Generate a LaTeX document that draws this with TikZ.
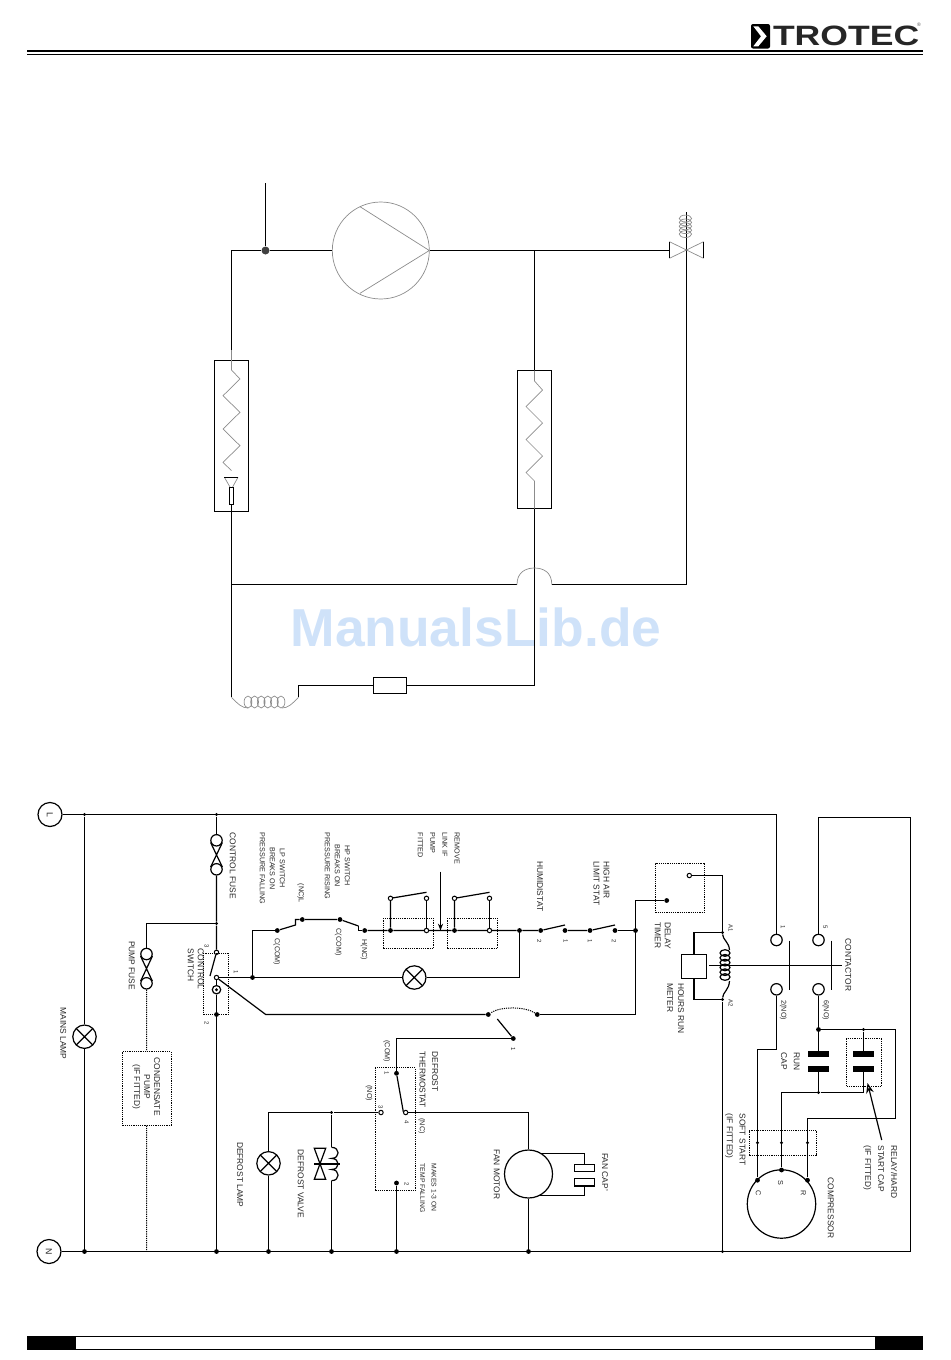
\documentclass[tikz,border=0pt]{standalone}
\usepackage{fontspec}
\setmainfont{Liberation Sans}
\usepackage{tikz}
\usetikzlibrary{arrows.meta}
\definecolor{wmblue}{HTML}{CFE2F9}
\definecolor{pipegray}{HTML}{8C8C8C}

\begin{document}
\begin{tikzpicture}[
    x=0.5pt, y=-0.5pt,
    >={Stealth[scale=0.6]},
    wire/.style={line width=0.6pt},
    pipe/.style={line width=0.35pt, draw=pipegray},
    dotwire/.style={line width=0.5pt, dash pattern=on 0.6pt off 0.5pt},
    dotbox/.style={draw, line width=0.5pt, dash pattern=on 0.6pt off 0.5pt, inner sep=0},
    plainbox/.style={draw, line width=0.6pt, inner sep=0},
    platebox/.style={fill=black, inner sep=0, minimum width=10.5pt, minimum height=3pt},
    jdot/.style={circle, fill=black, inner sep=0, minimum size=2.4pt},
    sdot/.style={circle, fill=black, inner sep=0, minimum size=1.6pt},
    odot/.style={circle, draw, fill=white, line width=0.5pt, inner sep=0, minimum size=2.2pt},
    termc/.style={circle, draw, line width=0.6pt, inner sep=0, minimum size=5.7pt},
    lamp/.style={circle, draw, line width=0.6pt, inner sep=0, minimum size=11.7pt,
        path picture={\draw[line width=0.6pt] (path picture bounding box.north west) -- (path picture bounding box.south east)
            (path picture bounding box.north east) -- (path picture bounding box.south west);}},
    lbl/.style={rotate=-90, anchor=west, inner sep=0, align=left, text=black!85, font=\fontsize{4.2}{5}\selectfont},
    sml/.style={rotate=-90, anchor=west, inner sep=0, align=left, text=black!85, font=\fontsize{3.6}{5}\selectfont},
    num/.style={rotate=-90, inner sep=0, text=black!85, font=\fontsize{3}{3.6}\selectfont}
]
\useasboundingbox (0,0) rectangle (950,1360);

% Page furniture
\node[text=wmblue, inner sep=0, font=\fontsize{26.7}{30}\bfseries\selectfont] (wmark) at (476,627) {ManualsLib.de};
\draw[line width=1pt] (27,51) -- (923,51);
\draw[line width=0.4pt] (27,54.5) -- (923,54.5);
\fill (27,1336) rectangle (75,1350);
\fill (875,1336) rectangle (923,1350);
\draw[line width=0.5pt] (75,1336.5) rectangle (875,1349.5);
\fill[rounded corners=1pt] (751,24) rectangle (770,48.5);
\fill[white] (753.3,26.3) -- (758.3,26.3) -- (766.7,36.3) -- (758.3,46.3) -- (753.3,46.3) -- (761,36.3) -- cycle;
\node[inner sep=0, anchor=west, xscale=1.27, transform shape, text=black!85, font=\fontsize{14}{16}\bfseries\selectfont] (brand) at (772.5,36.3) {TROTEC};
\node[inner sep=0, text=black!70, font=\fontsize{2.5}{3}\selectfont] (brandr) at (919,25) {®};

% Refrigerant circuit, nodes
\node[circle, pipe, draw, inner sep=0, minimum size=48.5pt] (pump) at (380.8,250.5) {};
\node[circle, fill=black!75, inner sep=0, minimum size=4pt] (suction) at (265.5,250.5) {};
\node[plainbox, minimum width=17pt, minimum height=75.5pt] (evap) at (231.5,435.8) {};
\node[plainbox, minimum width=16.8pt, minimum height=69pt] (cond) at (534.5,439.5) {};
\node[plainbox, minimum width=16.7pt, minimum height=8.25pt] (filter) at (390,685.5) {};
\node[draw, line width=0.4pt, inner sep=0, minimum width=2pt, minimum height=8.5pt] (orifice) at (231.5,495.8) {};
\coordinate (stubtop) at (265.5,183);
\coordinate (evapin) at (231.5,350);
\coordinate (tee) at (534.5,250.5);
\coordinate (valvel) at (669.5,250.5);
\coordinate (valvetop) at (686.5,211.7);
\coordinate (crossr) at (686.5,584.5);
\coordinate (junl) at (231.5,584.5);
\coordinate (arcl) at (517,584.5);
\coordinate (arcr) at (551.8,584.5);
\coordinate (capl) at (231.5,697.3);
\coordinate (capr) at (298.5,697.3);
\coordinate (capm) at (298.5,685.5);
\coordinate (capend) at (534.5,685.5);

% Refrigerant circuit, lines
\draw[wire] (stubtop) -- (suction);
\draw[wire] (evapin) |- (suction);
\draw[wire] (suction) -- (pump);
\draw[wire] (pump) -- (tee) -- (valvel);
\draw[wire] (tee) -- (cond.north);
\draw[wire] (orifice.south) -- (capl);
\draw[wire] (junl) -- (arcl);
\draw[wire] (arcr) -- (crossr) -- (valvetop);
\draw[wire] (cond.south) -- (capend) -- (filter);
\draw[wire] (filter) -- (capm) -- (capr);
\draw[pipe] (arcl) .. controls (517,572) and (526,568) .. (534.4,568) .. controls (543,568) and (551.8,572) .. (arcr);
\draw[pipe] (evapin) -- (231.5,370) -- (240,379) -- (223,395.7) -- (240,412.3) -- (223,429) -- (240,445.7) -- (223,462.3) -- (231.5,470.7);
\draw[pipe] (534.5,370.5) -- (534.5,381) -- (542.5,390) -- (526,406.5) -- (542.5,423) -- (526,439.5) -- (542.5,456) -- (526,472.5) -- (534.5,481) -- (534.5,508.5);
\draw[pipe] (224.4,477.3) -- (230,487) (238,477.3) -- (232.6,487);
\draw[line width=0.4pt] (224.4,477.3) -- (238,477.3);
\draw[pipe] (429.3,250.5) -- (360,206.7) (429.3,250.5) -- (360,293.3);
\draw[pipe] (669.5,241.7) -- (703.5,258.3) (669.5,258.3) -- (703.5,241.7);
\draw[line width=0.5pt] (669.5,241.7) -- (669.5,258.3) (703.5,241.7) -- (703.5,258.3);
\draw[pipe] (685.4,218.5) ellipse [x radius=6.2, y radius=3.4] (685.4,222.4) ellipse [x radius=6.2, y radius=3.4]
    (685.4,226.3) ellipse [x radius=6.2, y radius=3.4] (685.4,230.2) ellipse [x radius=6.2, y radius=3.4]
    (685.4,234.1) ellipse [x radius=6.2, y radius=3.4];
\draw[pipe] (capl) .. controls (238,704) and (242,708) .. (248,708);
\draw[pipe] (capr) .. controls (292,704) and (288,708) .. (282,708);
\draw[pipe] (248,702) ellipse [x radius=3.9, y radius=6] (254.6,702) ellipse [x radius=3.9, y radius=6]
    (261.2,702) ellipse [x radius=3.9, y radius=6] (267.8,702) ellipse [x radius=3.9, y radius=6]
    (274.4,702) ellipse [x radius=3.9, y radius=6] (281,702) ellipse [x radius=3.9, y radius=6];

% Mains nodes
\node[termc, minimum size=12pt, num, font=\fontsize{4.4}{5}\selectfont] (L) at (50,814.5) {L};
\node[termc, minimum size=12pt, num, font=\fontsize{4.4}{5}\selectfont] (N) at (49,1251.5) {N};
\coordinate (toprt) at (910.5,817.5);
\coordinate (botrt) at (910.5,1251.5);
\node[sdot] (mlamptop) at (84.5,814.5) {};
\node[sdot] (ctrltop) at (216.5,814.5) {};
\node[lamp] (mlamp) at (84.5,1036.7) {};
\node[jdot] (mlampbot) at (84.5,1251.5) {};
\node[jdot] (ctrlbot) at (216.5,1251.5) {};
\node[jdot] (dlampbot) at (268.5,1251.5) {};
\node[jdot] (valvebot) at (331.5,1251.5) {};
\node[jdot] (dstatbot) at (396.5,1251.5) {};
\node[jdot] (motorbot) at (528.5,1251.5) {};
\node[sdot] (a2bot) at (722.5,1251.5) {};
\coordinate (condbot) at (146.5,1251.5);

% Fuses and control switch
\node[termc] (ffa) at (216.5,840.3) {};
\node[termc] (ffb) at (216.5,869.3) {};
\node[termc] (pfa) at (146.5,954) {};
\node[termc] (pfb) at (146.5,983.3) {};
\node[sdot] (pumpj) at (216.5,923.5) {};
\node[odot] (cs3) at (216.5,952.3) {};
\node[odot] (cs1) at (216.5,977.5) {};
\node[circle, draw, line width=0.6pt, inner sep=0, minimum size=4.2pt] (csm) at (216.5,989.7) {};
\node[sdot] (csmd) at (216.5,989.7) {};
\node[jdot] (cs2) at (216.5,1014.5) {};
\coordinate (csblade) at (210,976);
\coordinate (ctrlbend) at (265.7,1014.5);
\node[dotbox, minimum width=12.5pt, minimum height=30.5pt] (csbox) at (215.8,983.8) {};
\node[dotbox, minimum width=24.4pt, minimum height=36.7pt] (cpbox) at (146.7,1088.4) {};

% Stat chain
\node[jdot] (pilotj) at (252.5,977.5) {};
\node[lamp] (pilot) at (414.3,977.5) {};
\node[jdot] (lpc) at (277.3,930.5) {};
\coordinate (lpb) at (295.5,925);
\coordinate (lpt) at (295.5,919.5);
\node[jdot] (lpn) at (302.3,919.5) {};
\node[jdot] (hpc) at (340,919.5) {};
\coordinate (hpb) at (358.5,926);
\node[jdot] (hpn) at (364.7,930.5) {};
\node[jdot] (ra) at (390.5,930.5) {};
\node[odot] (rat) at (390.5,898.3) {};
\node[odot] (rbt) at (426.5,898.3) {};
\node[odot] (rb) at (426.5,930.5) {};
\coordinate (rblade) at (426.5,892.3);
\node[jdot] (sa) at (454.5,930.5) {};
\node[odot] (sat) at (454.5,898.3) {};
\node[odot] (sbt) at (489.5,898.3) {};
\node[odot] (sb) at (489.5,930.5) {};
\coordinate (sblade) at (489.5,892.3);
\coordinate (linktop) at (440.5,871.7);
\coordinate (linkin) at (440.5,930.5);
\node[dotbox, minimum width=25pt, minimum height=15pt] (rbox) at (408.3,933.3) {};
\node[dotbox, minimum width=25pt, minimum height=15pt] (sbox) at (472.3,933.3) {};
\node[jdot] (pilotr) at (519.5,930.5) {};
\node[jdot] (ha) at (540.7,930.5) {};
\coordinate (hblade) at (565,925);
\node[jdot] (hb) at (565,930.5) {};
\node[jdot] (aa) at (590,930.5) {};
\coordinate (ablade) at (615,925);
\node[jdot] (ab) at (615,930.5) {};
\node[jdot] (tj) at (635.5,930.5) {};

% Defrost termination contact
\node[jdot] (tmr) at (537.3,1014.5) {};
\node[jdot] (tml) at (488.3,1014.5) {};
\coordinate (tmblade) at (497.3,1019);
\node[jdot] (tmc) at (513.3,1038.5) {};

% Defrost thermostat and loads
\node[jdot] (dt1) at (396.5,1073.3) {};
\coordinate (dtblade) at (403.3,1111.7);
\node[odot] (dt4) at (405.7,1112.5) {};
\node[odot] (dt3) at (381,1112.5) {};
\node[jdot] (dt2) at (396.5,1183) {};
\node[dotbox, minimum width=20pt, minimum height=61.3pt] (dtbox) at (395.3,1129) {};
\node[sdot] (valvej) at (331.5,1112.5) {};
\coordinate (coilt) at (331.5,1147.3);
\coordinate (coilb) at (331.5,1180.7);
\node[lamp] (dlamp) at (268.5,1163.3) {};
\node[circle, draw, line width=0.6pt, inner sep=0, minimum size=24pt] (motor) at (528.5,1174) {};
\coordinate (fcu) at (540.7,1153.5);
\coordinate (fcd) at (540,1195.5);
\node[plainbox, minimum width=10pt, minimum height=3.5pt] (fca) at (584.5,1167.8) {};
\node[plainbox, minimum width=10pt, minimum height=3.7pt] (fcb) at (584.5,1182.2) {};

% Timer, meter, contactor
\node[dotbox, minimum width=24.7pt, minimum height=24.3pt] (tmbox) at (680,887.7) {};
\node[jdot] (tma) at (666.7,900.5) {};
\node[odot] (tmb) at (689.3,875.5) {};
\node[sdot] (a1) at (722.5,932.5) {};
\node[sdot] (a2) at (722.5,999.5) {};
\node[plainbox, minimum width=12.5pt, minimum height=12pt] (meter) at (694,966.3) {};
\coordinate (sha) at (709.3,965.5);
\coordinate (shb) at (841.7,965.5);
\node[termc] (ca) at (776.5,940) {};
\node[termc] (cb) at (818.5,940) {};
\node[termc] (cc) at (776.5,989.3) {};
\node[termc] (cd) at (818.5,989.3) {};
\coordinate (baratop) at (789.5,940.7);
\coordinate (barabot) at (789.5,990);
\coordinate (barbtop) at (831.5,940.7);
\coordinate (barbbot) at (831.5,990);

% Compressor group
\node[jdot] (rj) at (818.5,1029.5) {};
\node[sdot] (sctop) at (863.5,1029.5) {};
\node[platebox] (rca) at (818.5,1054) {};
\node[platebox] (rcb) at (818.5,1069) {};
\node[platebox] (sca) at (863.5,1054) {};
\node[platebox] (scb) at (863.5,1069) {};
\node[sdot] (rcj) at (818.5,1092.5) {};
\node[dotbox, minimum width=17.3pt, minimum height=23.7pt] (scbox) at (864,1062.6) {};
\coordinate (scarr) at (881.7,1140);
\coordinate (sctip) at (867.5,1083);
\coordinate (rbend) at (895.5,1118.5);
\coordinate (cbend) at (776.5,1049.5);
\node[dotbox, minimum width=33.7pt, minimum height=12.3pt] (ssbox) at (783,1143) {};
\node[sdot] (ssc) at (757.5,1142.7) {};
\node[sdot] (sss) at (781.5,1142.7) {};
\node[sdot] (ssr) at (807.5,1142.7) {};
\node[circle, draw, line width=0.6pt, inner sep=0, minimum size=34.2pt] (compr) at (781.5,1204) {};
\node[jdot] (termc) at (757.5,1180.2) {};
\node[jdot] (terms) at (781.5,1170) {};
\node[jdot] (termr) at (807.5,1180.2) {};

% Mains wiring
\draw[wire] (L) -| (ca);
\draw[wire] (N) -- (botrt);
\draw[wire] (cb) |- (toprt) -- (botrt);
\draw[wire] (mlamptop) -- (mlamp) -- (mlampbot);

% Fuses and switch wiring
\draw[wire] (ctrltop) -- (ffa);
\draw[wire] (ffa.200) -- (ffb.20) (ffa.-20) -- (ffb.160);
\draw[wire] (ffb) -- (pumpj) -- (cs3) -- (csblade);
\draw[wire] (pumpj) -| (pfa);
\draw[wire] (pfa.200) -- (pfb.20) (pfa.-20) -- (pfb.160);
\draw[dotwire] (pfb) -- (cpbox);
\draw[dotwire] (cpbox) -- (condbot);
\draw[wire] (cs1) -- (csm) -- (cs2) -- (ctrlbot);
\draw[wire] (cs1) -- (ctrlbend) -- (tml);

% Stat chain wiring
\draw[wire] (cs1) -- (pilotj) -- (pilot);
\draw[wire] (pilot) -| (pilotr);
\draw[wire] (pilotj) |- (lpc);
\draw[wire] (lpc) -- (lpb) -- (lpt) -- (lpn) -- (hpc) -- (hpb);
\draw[wire] (hpb) |- (hpn);
\draw[wire] (hpn) -- (ra) -- (rb) -- (sa) -- (sb) -- (pilotr) -- (ha) -- (hblade);
\draw[wire] (ra) -- (rat) -- (rblade);
\draw[wire] (rb) -- (rbt);
\draw[wire] (sa) -- (sat) -- (sblade);
\draw[wire] (sb) -- (sbt);
\draw[wire, ->] (linktop) -- (linkin);
\draw[wire] (hb) -- (aa) -- (ablade);
\draw[wire] (ab) -- (tj);
\draw[wire] (tj) |- (tma);
\draw[wire] (tj) |- (tmr);

% Defrost wiring
\draw[dotwire] (tmr) .. controls (525,1006.3) and (500,1006.3) .. (tml);
\draw[wire] (tmblade) -- (tmc);
\draw[wire] (tmc) -| (dt1);
\draw[wire] (dt1) -- (dtblade);
\draw[wire] (dt4) -| (motor);
\draw[wire] (motor) -- (motorbot);
\draw[wire] (dt3) -- (valvej);
\draw[wire] (valvej) -| (dlamp);
\draw[wire] (dlamp) -- (dlampbot);
\draw[wire] (dt2) -- (dstatbot);
\draw[wire] (valvej) -- (coilt);
\draw[wire] (coilt) .. controls (340.3,1147.3) and (340.3,1158.4) .. (331.5,1158.4)
    .. controls (340.3,1158.4) and (340.3,1169.5) .. (331.5,1169.5)
    .. controls (340.3,1169.5) and (340.3,1180.7) .. (coilb);
\draw[wire] (coilb) -- (valvebot);
\draw[wire] (314.3,1148.3) -- (325.7,1148.3) -- (314.3,1179.3) -- (325.7,1179.3) -- cycle;
\draw[wire] (314.3,1164) -- (340,1164);
\draw[wire] (fcu) -| (fca);
\draw[wire] (fcd) -| (fcb);

% Timer, meter, contactor wiring
\draw[wire] (tmb) -| (a1);
\draw[wire] (a1) -| (meter);
\draw[wire] (a2) -| (meter);
\draw[wire] (a2) -- (a2bot);
\draw[wire] (a1) .. controls (723,940) and (729,942) .. (729.5,950);
\draw[wire] (a2) .. controls (723,992) and (729,990) .. (729.5,981);
\draw[wire] (725,953) ellipse [x radius=5, y radius=3.3] (725,957.8) ellipse [x radius=5, y radius=3.3]
    (725,962.6) ellipse [x radius=5, y radius=3.3] (725,967.4) ellipse [x radius=5, y radius=3.3]
    (725,972.2) ellipse [x radius=5, y radius=3.3] (725,977) ellipse [x radius=5, y radius=3.3];
\draw[wire] (sha) -- (shb);
\draw[wire] (baratop) -- (barabot);
\draw[wire] (barbtop) -- (barbbot);

% Compressor wiring
\draw[wire] (cc) -- (cbend) -| (termc);
\draw[wire] (cd) -- (rj) -- (rca);
\draw[wire] (rj) -| (rbend) -| (termr);
\draw[wire] (rcb) -- (rcj);
\draw[wire] (rcj) -| (terms);
\draw[wire] (rcj) -| (scb);
\draw[wire] (sctop) -- (sca);
\draw[wire, -{Stealth[open, scale=0.9]}] (scarr) -- (sctip);

% Labels
\node[lbl] (tmains) at (63.3,1007.3) {MAINS LAMP};
\node[lbl] (tpfuse) at (131.7,940.7) {PUMP FUSE};
\node[lbl, align=center] (tcond) at (146.3,1057.5) {CONDENSATE\\PUMP\\(IF FITTED)};
\node[lbl] (tcsw) at (195.7,948) {CONTROL\\SWITCH};
\node[lbl] (tcfuse) at (232.7,832.5) {CONTROL FUSE};
\node[sml, align=center] (tlp) at (272.3,832.3) {LP SWITCH\\BREAKS ON\\PRESSURE FALLING};
\node[sml] (tnc) at (300.7,883.3) {(NC)L};
\node[sml] (tccom) at (276.7,938) {C(COM)};
\node[sml, align=center] (thp) at (337.3,832.3) {HP SWITCH\\BREAKS ON\\PRESSURE RISING};
\node[sml] (thcom) at (338.3,928.3) {C(COM)};
\node[sml] (thnc) at (364,939.3) {H(NC)};
\node[sml, font=\fontsize{3.6}{6.15}\selectfont] (tlink) at (438.8,832.3) {REMOVE\\LINK IF\\PUMP\\FITTED};
\node[lbl] (thum) at (540,860.7) {HUMIDISTAT};
\node[lbl] (thigh) at (601.5,860.7) {HIGH AIR\\LIMIT STAT};
\node[lbl] (tdelay) at (662.8,921.7) {DELAY\\TIMER};
\node[lbl, font=\fontsize{4.2}{5.5}\selectfont] (thours) at (675.5,982.7) {HOURS RUN\\METER};
\node[lbl] (tcont) at (848.3,938.3) {CONTACTOR};
\node[lbl, font=\fontsize{4.2}{6.3}\selectfont] (trun) at (790.3,1052) {RUN\\CAP};
\node[lbl, font=\fontsize{4.2}{6.3}\selectfont] (tsoft) at (735.3,1113.3) {SOFT START\\(IF FITTED)};
\node[lbl] (tcomp) at (830.7,1177.3) {COMPRESSOR};
\node[lbl, font=\fontsize{4.2}{6.5}\selectfont] (trelay) at (880.3,1145) {RELAY/HARD\\START CAP\\(IF FITTED)};
\node[lbl, font=\fontsize{4.2}{6.3}\selectfont] (tdef) at (428.7,1051) {DEFROST\\THERMOSTAT};
\node[sml] (tcom) at (386.7,1040) {(COM)};
\node[sml] (tno) at (369,1085) {(NO)};
\node[sml] (tncb) at (421.7,1118) {(NC)};
\node[sml, font=\fontsize{3.4}{5.8}\selectfont] (tmakes) at (428.2,1163.3) {MAKES 1-3 ON\\TEMP FALLING};
\node[lbl] (tfan) at (496.7,1149.3) {FAN MOTOR};
\node[lbl] (tfcap) at (605,1152.7) {FAN CAP'};
\node[lbl] (tdlamp) at (240,1141.7) {DEFROST LAMP};
\node[lbl] (tdvalve) at (300.7,1149.3) {DEFROST VALVE};
\node[sml] (tsno) at (783.3,1000) {2(NO)};
\node[sml] (tsnb) at (825.7,1000) {6(NO)};

% Terminal numbers
\node[num] (n3) at (206.7,946) {3};
\node[num] (n1) at (236,971.7) {1};
\node[num] (n2) at (206.7,1022.7) {2};
\node[num] (nha) at (539.3,940.7) {2};
\node[num] (nhb) at (565.7,940.7) {1};
\node[num] (naa) at (590,940.7) {1};
\node[num] (nab) at (614,940.7) {2};
\node[num] (ntm) at (513.3,1049.3) {1};
\node[num] (nda) at (730.7,927.7) {A1};
\node[num] (ndb) at (730.7,1003.3) {A2};
\node[num] (nca) at (783,926.7) {1};
\node[num] (ncb) at (825.3,926.7) {5};
\node[num] (ndt1) at (386.7,1073.3) {1};
\node[num] (ndt3) at (380.7,1106.7) {3};
\node[num] (ndt4) at (406.7,1121.7) {4};
\node[num] (ndt2) at (406.7,1184) {2};
\node[num, font=\fontsize{3.6}{4}\selectfont] (nts) at (780.7,1182.7) {S};
\node[num, font=\fontsize{3.6}{4}\selectfont] (ntc) at (758.3,1192.7) {C};
\node[num, font=\fontsize{3.6}{4}\selectfont] (ntr) at (803.3,1192.7) {R};

\end{tikzpicture}
\end{document}
